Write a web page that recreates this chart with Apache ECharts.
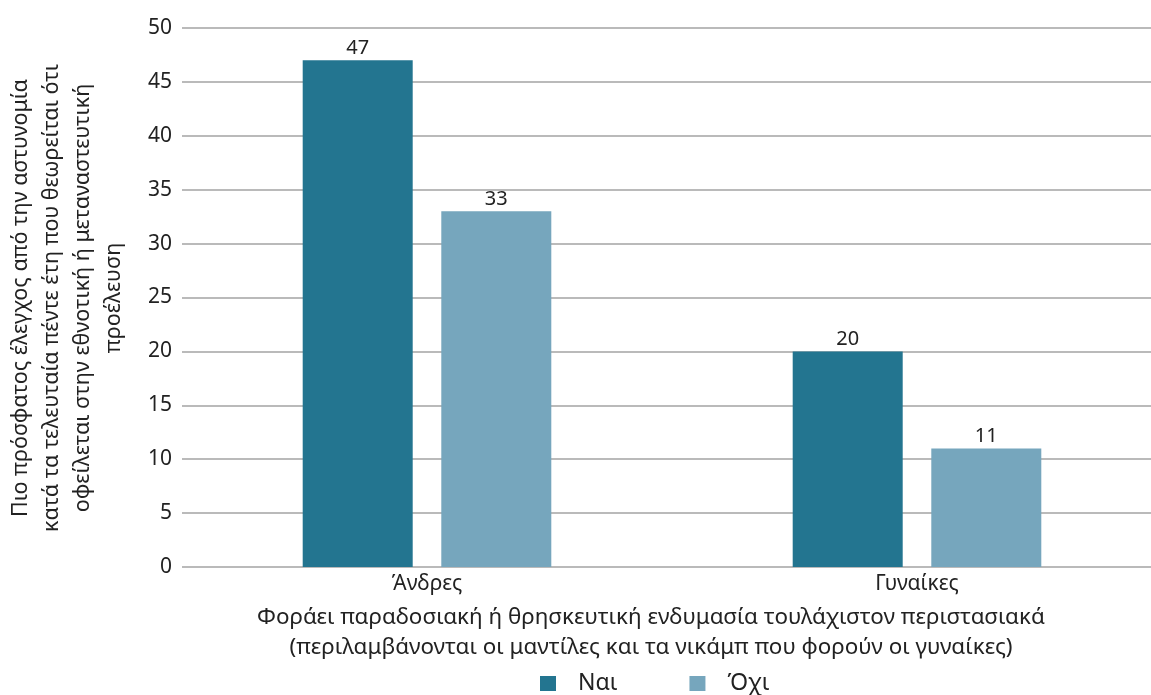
<!DOCTYPE html>
<html><head><meta charset="utf-8">
<script src="https://cdn.jsdelivr.net/npm/echarts@6/dist/echarts.min.js"></script>
<style>html,body{margin:0;padding:0;background:#fff}#c{width:1151px;height:695px}</style>
</head><body><div id="c"></div>
<script>
const categories = ['Άνδρες', 'Γυναίκες'];
const seriesNames = ['Ναι', 'Όχι'];
const valuesYes = [47, 20];
const valuesNo = [33, 11];
const yTitle = 'Πιο πρόσφατος έλεγχος από την αστυνομία\nκατά τα τελευταία πέντε έτη που θεωρείται ότι\nοφείλεται στην εθνοτική ή μεταναστευτική\nπροέλευση';
const xTitle = 'Φοράει παραδοσιακή ή θρησκευτική ενδυμασία τουλάχιστον περιστασιακά\n(περιλαμβάνονται οι μαντίλες και τα νικάμπ που φορούν οι γυναίκες)';

const FONT = '"Noto Sans", sans-serif';
const chart = echarts.init(document.getElementById('c'));
chart.setOption({
  animation: false,
  textStyle: { fontFamily: FONT },
  grid: { left: 182, width: 980, top: 28, bottom: 128, containLabel: false, outerBoundsMode: 'none' },
  xAxis: {
    type: 'category', data: categories,
    axisLine: { show: false }, axisTick: { show: false },
    axisLabel: { fontSize: 21, color: '#222', margin: 7, fontFamily: FONT }
  },
  yAxis: {
    type: 'value', min: 0, max: 50, interval: 5,
    axisLine: { show: false }, axisTick: { show: false },
    axisLabel: { fontSize: 21, color: '#222', margin: 10, fontFamily: FONT },
    splitLine: { lineStyle: { color: '#a3a3a3', width: 1.5 } }
  },
  legend: {
    data: seriesNames, top: 672, left: 540, padding: 0,
    itemWidth: 16, itemHeight: 15, itemGap: 72, icon: 'rect',
    textStyle: { fontSize: 23, color: '#222', fontFamily: FONT, padding: [0, 0, 0, 17] }
  },
  series: [
    { name: seriesNames[0], type: 'bar', data: valuesYes, barWidth: 110, barGap: '26%',
      itemStyle: { color: '#237590' },
      label: { show: true, position: 'top', distance: 2, fontSize: 20, color: '#222', fontFamily: FONT } },
    { name: seriesNames[1], type: 'bar', data: valuesNo, barWidth: 110,
      itemStyle: { color: '#76a6bd' },
      label: { show: true, position: 'top', distance: 2, fontSize: 20, color: '#222', fontFamily: FONT } }
  ],
  graphic: [
    { type: 'text', x: 67, y: 298, rotation: Math.PI / 2,
      style: { text: yTitle, fontSize: 21.5, lineHeight: 31, fill: '#222', align: 'center', verticalAlign: 'middle', fontFamily: FONT } },
    { type: 'text', x: 651, y: 633,
      style: { text: xTitle, fontSize: 22.4, lineHeight: 30, fill: '#222', align: 'center', verticalAlign: 'middle', fontFamily: FONT } }
  ]
});
</script></body></html>
